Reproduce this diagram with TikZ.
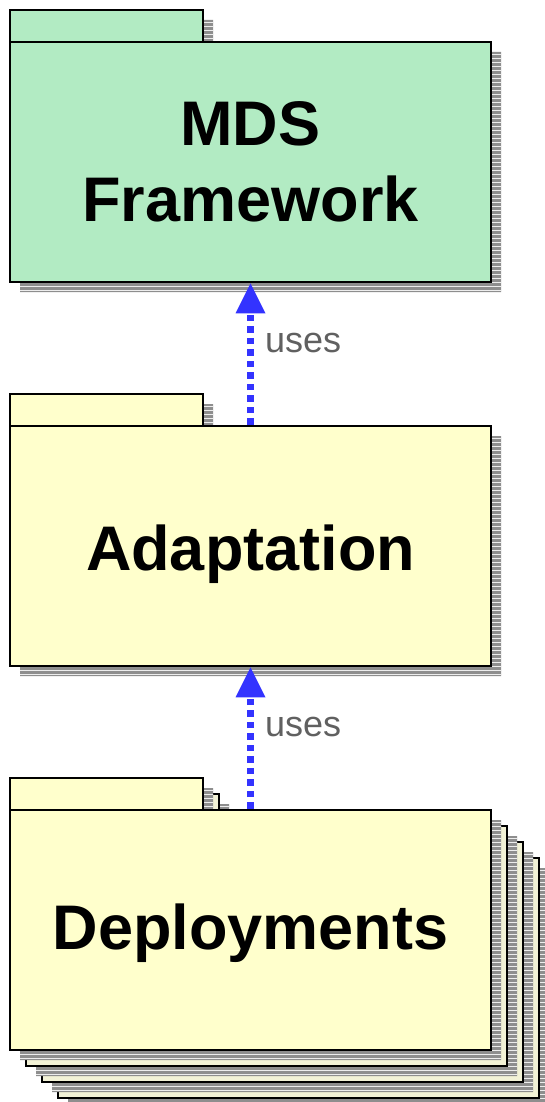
\documentclass[tikz,border=0pt]{standalone}
\usepackage{fontspec}
\setmainfont{Liberation Sans}
\usetikzlibrary{arrows.meta}

\definecolor{mdsgreen}{HTML}{B2EBC3}
\definecolor{pkgyellow}{HTML}{FFFFCC}
\definecolor{stackyellow}{HTML}{F2F2D6}
\definecolor{shadowgray}{HTML}{8E8E8E}
\definecolor{stripelight}{HTML}{EDEDED}
\definecolor{usesblue}{HTML}{3333FF}
\definecolor{labelgray}{HTML}{606060}

\tikzset{
  pkgline/.style={draw=black, line width=2.6pt},
  stripe/.style={stripelight, line width=1pt},
  pkgbody/.style={pkgline, rectangle, minimum width=481pt, minimum height=240pt,
    inner sep=0pt, align=center, font=\fontsize{63}{76}\selectfont\bfseries},
  pkgtab/.style={pkgline},
  usesarrow/.style={usesblue, line width=6.5pt, dash pattern=on 6.5pt off 5pt,
    -{Triangle[width=30pt,length=30pt,line width=0pt]}},
  useslabel/.style={text=labelgray, font=\fontsize{36}{40}\selectfont, anchor=west, inner sep=0pt},
}

% striped drop shadow of a package whose body's top-left corner is (#1,#2)
\newcommand\pkgshade[2]{%
  \begin{scope}
    \clip (#1+10,#2-22) rectangle (#1+203,#2+10)
          (#1+10,#2+10) rectangle (#1+491,#2+250);
    \fill[shadowgray] (#1,#2-30) rectangle (#1+500,#2+260);
    \foreach \k in {0,4,...,276}
      \draw[stripe] (#1,#2-22+\k+2.5) -- ++(500,0);
  \end{scope}
}
% one of the stacked copies behind the Deployments package
\newcommand\stackcopy[2]{%
  \pkgshade{#1}{#2}
  \filldraw[pkgline, fill=stackyellow] (#1,#2-32) rectangle (#1+193,#2);
  \filldraw[pkgline, fill=stackyellow] (#1,#2) rectangle (#1+481,#2+240);
}
% title text lowered by #1 without changing its box
\newcommand\lowered[2]{\raisebox{-#1}[\height][\depth]{#2}}

\begin{document}
\begin{tikzpicture}[x=1pt,y=-1pt]
\useasboundingbox (0,0) rectangle (544,1102);

% MDS Framework package
\pkgshade{10}{42}
\filldraw[pkgtab, fill=mdsgreen] (10,10) rectangle (203,42);
\node[pkgbody, fill=mdsgreen] (mds) at (250.5,162) {MDS\\Framework};

% Adaptation package
\pkgshade{10}{426}
\filldraw[pkgtab, fill=pkgyellow] (10,394) rectangle (203,426);
\node[pkgbody, fill=pkgyellow] (adapt) at (250.5,546) {\lowered{8pt}{Adaptation}};

% Deployments: a stack of packages
\stackcopy{58}{858}
\stackcopy{42}{842}
\stackcopy{26}{826}
\pkgshade{10}{810}
\filldraw[pkgtab, fill=pkgyellow] (10,778) rectangle (203,810);
\node[pkgbody, fill=pkgyellow] (deploy) at (250.5,930) {\lowered{3pt}{Deployments}};

% dependencies
\draw[usesarrow] (adapt.north) -- (mds.south);
\node[useslabel] (uses1) at (265,343) {uses};
\draw[usesarrow] (deploy.north) -- (adapt.south);
\node[useslabel] (uses2) at (265,727) {uses};
\end{tikzpicture}
\end{document}
